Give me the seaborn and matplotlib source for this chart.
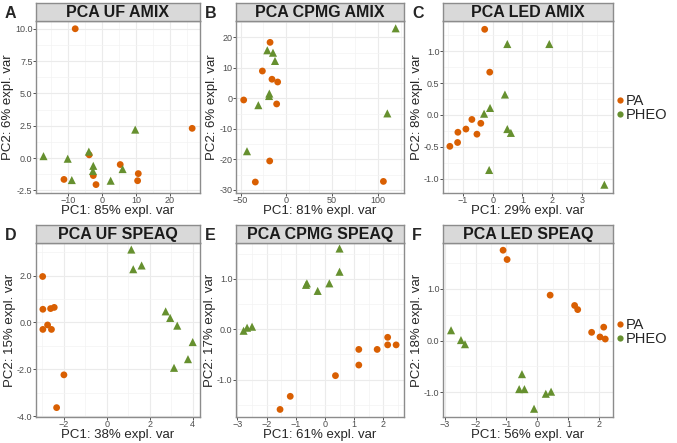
import seaborn as sns
import pandas as pd
import numpy as np
import matplotlib.pyplot as plt
from matplotlib.ticker import AutoMinorLocator, FormatStrFormatter
from matplotlib.lines import Line2D

### Datos (PC1, PC2 por grupo)
## A: PCA UF AMIX
a_pa_x = [-7.8, 26.5, -3.7, 5.4, 10.7, 10.5, -11.1, -2.5, -1.7]
a_pa_y = [10.0, 2.3, 0.25, -0.5, -1.2, -1.75, -1.65, -1.35, -2.05]
a_pheo_x = [-17.1, -10.0, -8.8, -3.8, -2.5, -2.6, 2.6, 6.1, 9.8]
a_pheo_y = [0.15, -0.05, -1.7, 0.5, -0.6, -1.0, -1.75, -0.85, 2.2]

## B: PCA CPMG AMIX
b_pa_x = [-17.8, -26.2, -15.7, -9.5, -46.6, -10.6, -18.2, -33.9, 106.0]
b_pa_y = [18.4, 9.0, 6.3, 5.4, -0.5, -1.8, -20.5, -27.4, -27.2]
b_pheo_x = [-20.8, -14.6, -12.4, -18.6, -18.9, -30.6, -43.0, 110.3, 119.4]
b_pheo_y = [15.8, 15.0, 12.3, 1.6, 0.8, -2.2, -17.3, -4.9, 23.0]

## C: PCA LED AMIX
c_pa_x = [-0.27, -0.10, -0.70, -0.40, -0.90, -1.17, -0.53, -1.18, -1.44]
c_pa_y = [1.34, 0.67, -0.07, -0.13, -0.22, -0.27, -0.30, -0.43, -0.49]
c_pheo_x = [0.49, 1.90, 0.41, -0.09, -0.29, 0.49, 0.61, -0.12, 3.75]
c_pheo_y = [1.11, 1.11, 0.32, 0.11, 0.02, -0.22, -0.28, -0.86, -1.09]

## D: PCA UF SPEAQ
d_pa_x = [-2.99, -2.98, -2.62, -2.45, -2.76, -2.98, -2.58, -2.00, -2.34]
d_pa_y = [1.96, 0.56, 0.59, 0.64, -0.11, -0.30, -0.30, -2.24, -3.64]
d_pheo_x = [1.14, 1.23, 1.62, 2.74, 2.95, 3.28, 4.00, 3.78, 3.13]
d_pheo_y = [3.11, 2.27, 2.43, 0.47, 0.19, -0.14, -0.84, -1.57, -1.94]

## E: PCA CPMG SPEAQ
e_pa_x = [2.15, 2.15, 2.44, 1.79, 1.16, 1.16, 0.36, -1.19, -1.54]
e_pa_y = [-0.16, -0.31, -0.31, -0.40, -0.40, -0.71, -0.92, -1.33, -1.59]
e_pheo_x = [0.50, 0.50, -0.62, -0.65, 0.15, -0.25, -2.79, -2.67, -2.50]
e_pheo_y = [1.60, 1.14, 0.91, 0.88, 0.91, 0.76, -0.03, 0.03, 0.05]

## F: PCA LED SPEAQ
f_pa_x = [-1.11, -0.98, 0.41, 1.20, 1.30, 2.14, 1.75, 2.02, 2.19]
f_pa_y = [1.75, 1.57, 0.88, 0.68, 0.60, 0.26, 0.16, 0.07, 0.03]
f_pheo_x = [-2.79, -2.47, -2.34, -0.50, -0.59, -0.42, 0.27, 0.44, -0.11]
f_pheo_y = [0.20, 0.01, -0.07, -0.65, -0.94, -0.94, -1.03, -0.99, -1.32]

titulos = ["PCA UF AMIX", "PCA CPMG AMIX", "PCA LED AMIX",
           "PCA UF SPEAQ", "PCA CPMG SPEAQ", "PCA LED SPEAQ"]
letras = ["A", "B", "C", "D", "E", "F"]
var_pc1 = [85, 81, 29, 38, 61, 56]
var_pc2 = [6, 6, 8, 15, 17, 18]

datos = [(a_pa_x, a_pa_y, a_pheo_x, a_pheo_y),
         (b_pa_x, b_pa_y, b_pheo_x, b_pheo_y),
         (c_pa_x, c_pa_y, c_pheo_x, c_pheo_y),
         (d_pa_x, d_pa_y, d_pheo_x, d_pheo_y),
         (e_pa_x, e_pa_y, e_pheo_x, e_pheo_y),
         (f_pa_x, f_pa_y, f_pheo_x, f_pheo_y)]

# Límites, ticks y formato de cada panel
xlims = [(-19.3, 28.8), (-55, 128.5), (-1.67, 4.04), (-3.3, 4.34), (-3.05, 2.71), (-3.05, 2.44)]
ylims = [(-2.7, 10.6), (-31, 25.4), (-1.22, 1.47), (-4.04, 3.39), (-1.74, 1.71), (-1.48, 1.89)]
xticks = [[-10, 0, 10, 20], [-50, 0, 50, 100], [-1, 0, 1, 2, 3],
          [-2, 0, 2, 4], [-3, -2, -1, 0, 1, 2], [-3, -2, -1, 0, 1, 2]]
yticks = [[-2.5, 0, 2.5, 5, 7.5, 10], [-30, -20, -10, 0, 10, 20], [-1, -0.5, 0, 0.5, 1],
          [-4, -2, 0, 2], [-1, 0, 1], [-1, 0, 1]]
yfmt = ["%.1f", "%d", "%.1f", "%.1f", "%.1f", "%.1f"]

colores = {"PA": "#D95F02", "PHEO": "#66902F"}
marcadores = {"PA": "o", "PHEO": "^"}
tamanos = {"PA": 24, "PHEO": 34}

sns.set_style("whitegrid")
plt.rcParams['font.family'] = ['Liberation Sans', 'DejaVu Sans']

W, H = 677, 443
fig = plt.figure(figsize=(W / 100, H / 100), dpi=100)

# Posiciones en píxeles (izquierda, derecha) y (arriba tira, abajo tira, abajo panel)
cols = [(36, 200), (236, 404), (443, 613)]
rows = [(3, 21, 193), (225, 243, 417)]


def caja(x0, x1, y0, y1):
    return [x0 / W, 1 - y1 / H, (x1 - x0) / W, (y1 - y0) / H]


for i in range(6):
    r, c = divmod(i, 3)
    x0, x1 = cols[c]
    yt, ys, yb = rows[r]
    pa_x, pa_y, pheo_x, pheo_y = datos[i]
    df = pd.DataFrame({"PC1": pa_x + pheo_x,
                       "PC2": pa_y + pheo_y,
                       "Grupo": ["PA"] * len(pa_x) + ["PHEO"] * len(pheo_x)})

    ax = fig.add_axes(caja(x0, x1, ys, yb))
    sns.scatterplot(data=df, x="PC1", y="PC2", hue="Grupo", style="Grupo", size="Grupo",
                    palette=colores, markers=marcadores, sizes=tamanos, linewidth=0,
                    legend=False, ax=ax, zorder=3)
    ax.set_xlim(xlims[i])
    ax.set_ylim(ylims[i])
    ax.set_xticks(xticks[i])
    ax.set_yticks(yticks[i])
    ax.yaxis.set_major_formatter(FormatStrFormatter(yfmt[i]))
    ax.xaxis.set_minor_locator(AutoMinorLocator(2))
    ax.yaxis.set_minor_locator(AutoMinorLocator(2))
    ax.grid(which="major", color="#EBEBEB", linewidth=0.8)
    ax.grid(which="minor", color="#F3F3F3", linewidth=0.5)
    ax.tick_params(which="major", length=2, width=0.6, color="#333333",
                   labelsize=6.5, labelcolor="#4D4D4D", pad=0.5, direction="out",
                   bottom=True, left=True)
    ax.tick_params(which="minor", length=0)
    for sp in ax.spines.values():
        sp.set_color("#8C8C8C")
        sp.set_linewidth(1.0)
    ax.set_xlabel(f"PC1: {var_pc1[i]}% expl. var", fontsize=9.5, labelpad=-0.5)
    ax.set_ylabel(f"PC2: {var_pc2[i]}% expl. var", fontsize=9.5, labelpad=1)

    # Tira del título
    st = fig.add_axes(caja(x0, x1, yt, ys))
    st.set_facecolor("#D9D9D9")
    st.set_xticks([])
    st.set_yticks([])
    for sp in st.spines.values():
        sp.set_color("#8C8C8C")
        sp.set_linewidth(1.0)
    st.text(0.5, 0.45, titulos[i], ha="center", va="center",
            fontsize=11.5, fontweight="bold", color="#1A1A1A", transform=st.transAxes)

    # Letra del panel
    fig.text((x0 - 31) / W, 1 - (yt + 10) / H, letras[i], fontsize=11.5,
             fontweight="bold", ha="left", va="center")

# Leyendas a la derecha de cada fila
handles = [Line2D([0], [0], marker="o", color="w", markerfacecolor=colores[g],
                  markeredgewidth=0, markersize=4.5, label=g) for g in ["PA", "PHEO"]]
for yc in [108, 332]:
    fig.legend(handles=handles, loc="center left", bbox_to_anchor=(616 / W, 1 - yc / H),
               frameon=False, fontsize=10.5, handlelength=0.5, handletextpad=0.15,
               labelspacing=0.05, borderpad=0, borderaxespad=0)

plt.savefig("out.png", dpi=100)
